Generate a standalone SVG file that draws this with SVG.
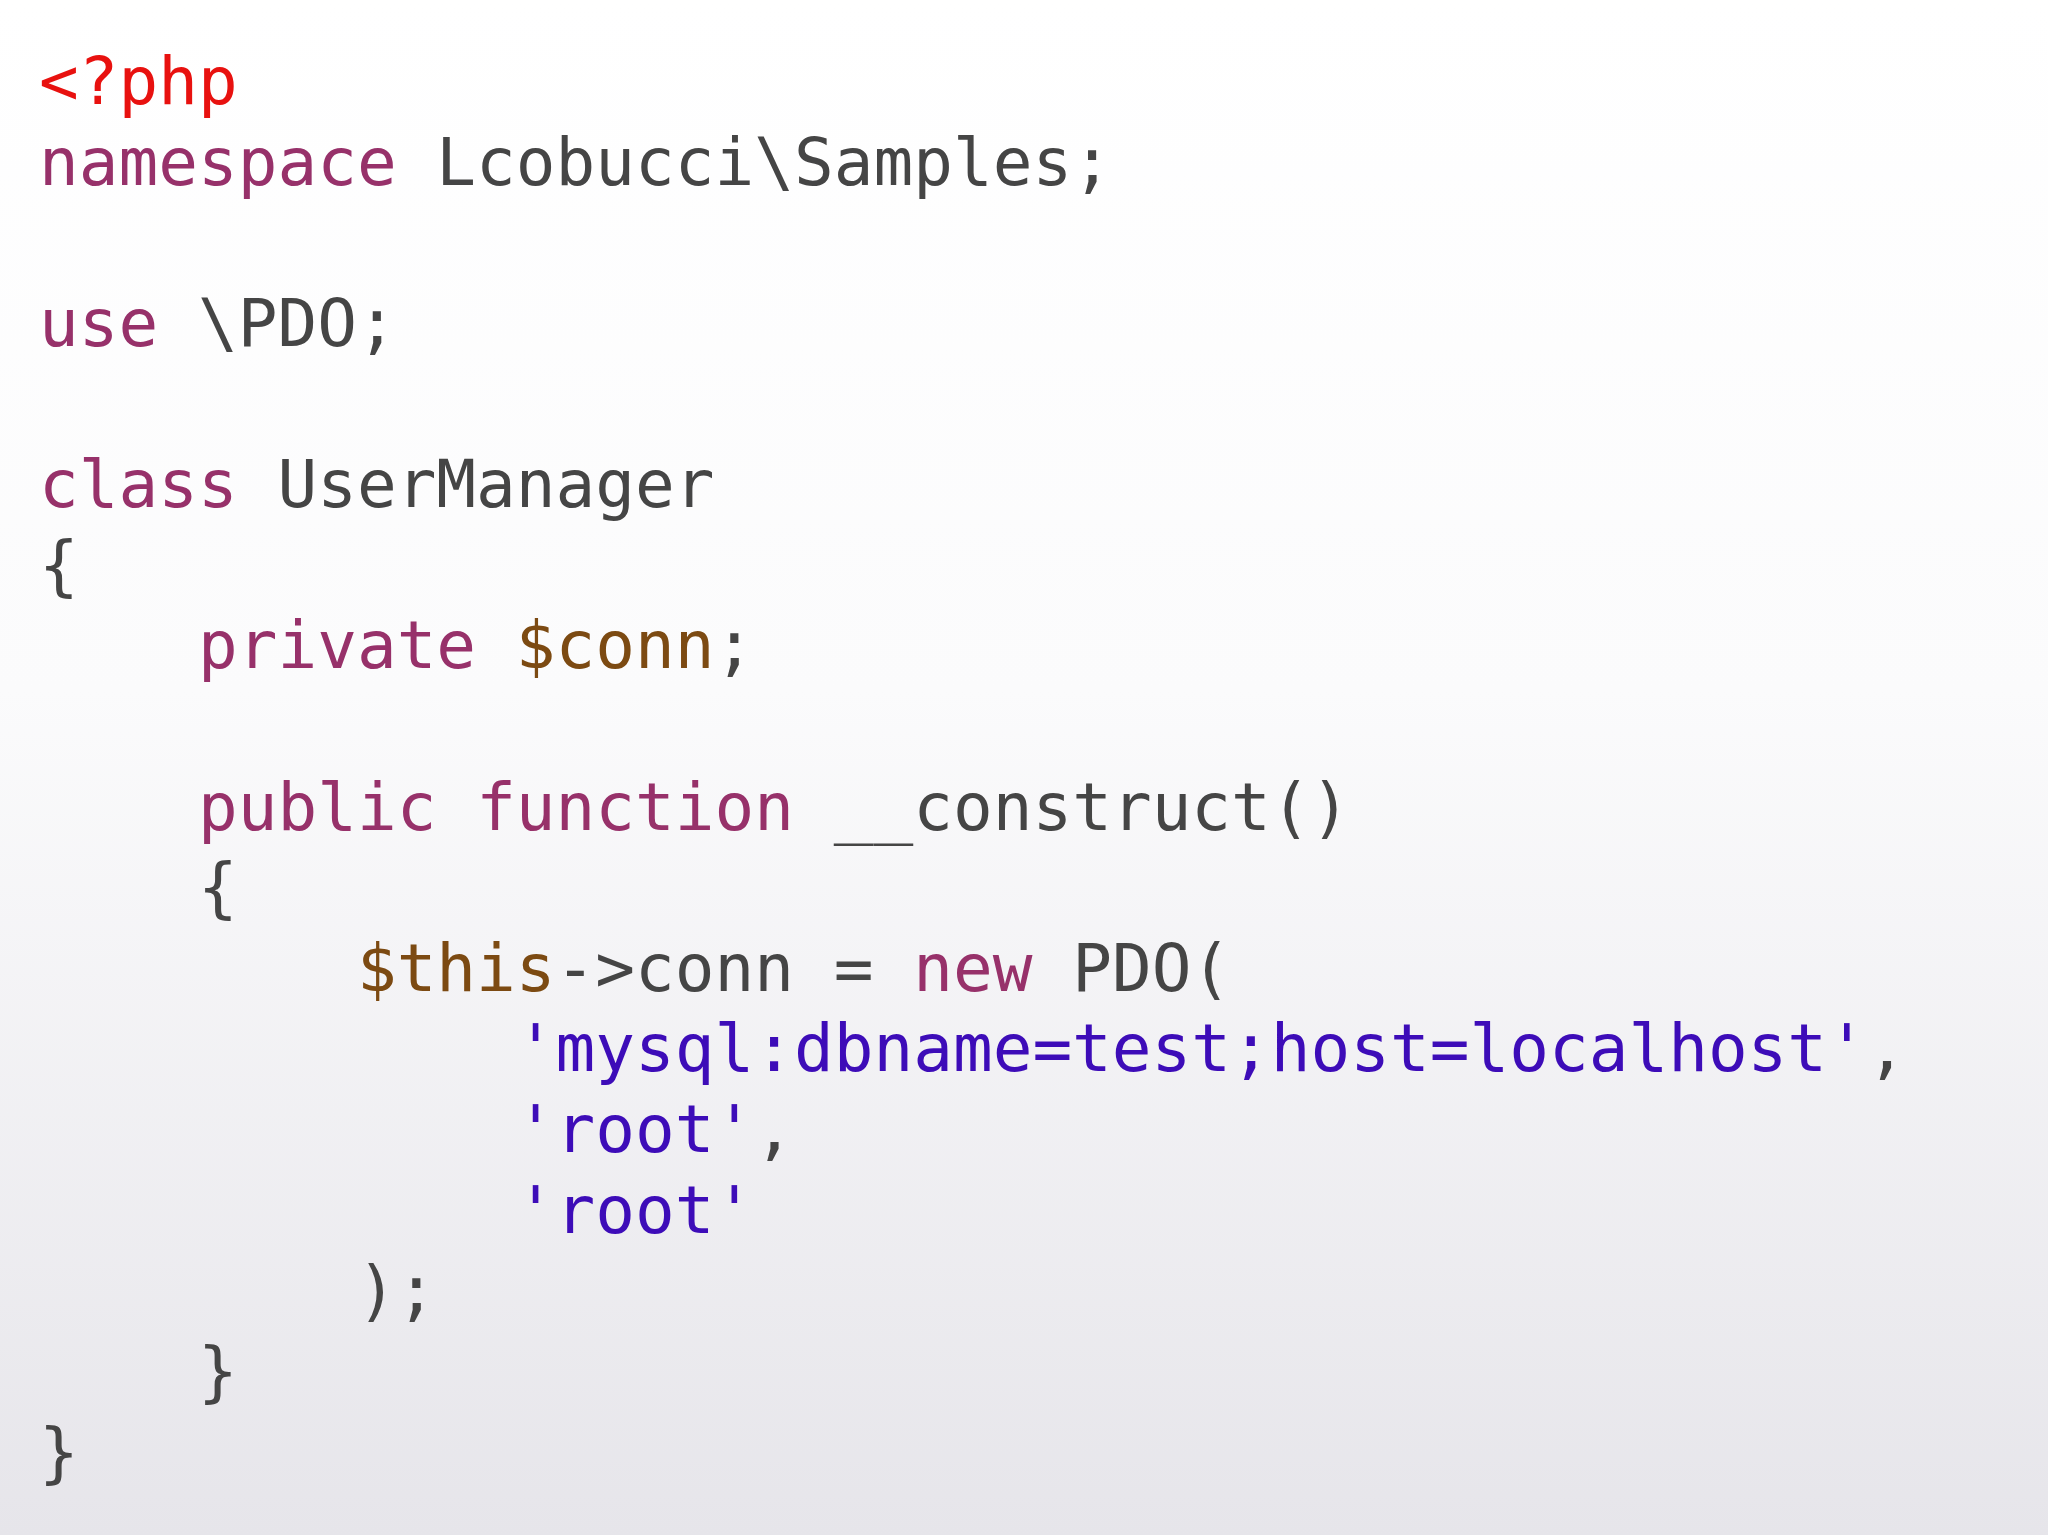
<svg xmlns="http://www.w3.org/2000/svg" width="2048" height="1535" viewBox="0 0 2048 1535">
<defs>
<linearGradient id="bg" x1="0" y1="0" x2="0" y2="1">
<stop offset="0" stop-color="#ffffff"/><stop offset="0.45" stop-color="#fbfbfc"/><stop offset="1" stop-color="#e6e5ea"/>
</linearGradient>
<style>
text{font-family:"DejaVu Sans Mono","Liberation Mono",monospace;font-size:66px;fill:#454545;white-space:pre}
.r{fill:#e8110f}.k{fill:#97316a}.v{fill:#7c4a12}.s{fill:#3d0cb8}
</style>
</defs>
<rect width="2048" height="1535" fill="url(#bg)"/>
<g id="code" xml:space="preserve">
<text x="39" y="104" class="r">&lt;?php</text>
<text x="39" y="185"><tspan class="k">namespace</tspan> Lcobucci\Samples;</text>
<text x="39" y="346"><tspan class="k">use</tspan> \PDO;</text>
<text x="39" y="507"><tspan class="k">class</tspan> UserManager</text>
<text x="39" y="588">{</text>
<text x="39" y="668">    <tspan class="k">private</tspan> <tspan class="v">$conn</tspan>;</text>
<text x="39" y="830">    <tspan class="k">public</tspan> <tspan class="k">function</tspan> __construct()</text>
<text x="39" y="910">    {</text>
<text x="39" y="991">        <tspan class="v">$this</tspan>-&gt;conn = <tspan class="k">new</tspan> PDO(</text>
<text x="39" y="1071">            <tspan class="s">'mysql:dbname=test;host=localhost'</tspan>,</text>
<text x="39" y="1152">            <tspan class="s">'root'</tspan>,</text>
<text x="39" y="1233">            <tspan class="s">'root'</tspan></text>
<text x="39" y="1313">        );</text>
<text x="39" y="1394">    }</text>
<text x="39" y="1475">}</text>
</g>
</svg>
